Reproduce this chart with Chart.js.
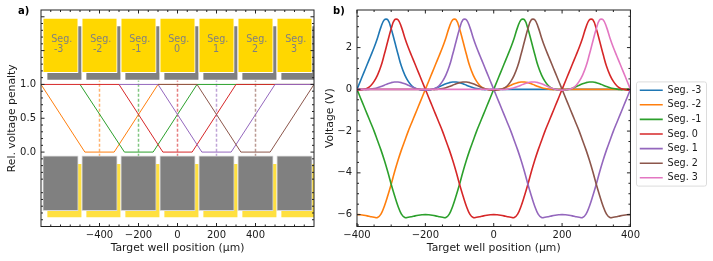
<!DOCTYPE html>
<html>
<head>
<meta charset="utf-8">
<script src="https://cdn.jsdelivr.net/npm/chart.js@4/dist/chart.umd.min.js"></script>
<style>
body{margin:0;background:#fff;font-family:"DejaVu Sans",sans-serif;}
canvas{position:absolute;top:0;}
#chartA{left:0;}
#chartB{left:320px;}
.tag{position:absolute;top:5px;font:bold 10px "DejaVu Sans",sans-serif;color:#000;}
</style>
</head>
<body>
<canvas id="chartA" width="320" height="261"></canvas>
<canvas id="chartB" width="393" height="261"></canvas>
<div class="tag" style="left:18px">a)</div>
<div class="tag" style="left:333px">b)</div>
<script>
// panel a data
const segNames = ["-3","-2","-1","0","1","2","3"];
const segCenters = [-600,-400,-200,0,200,400,600];
const topRectY = [1.175,1.98];
const topShadowY = [1.06,1.87];
const lowRectY = [-0.865,-0.055];
const lowShadowY = [-0.975,-0.165];
const shadowShift = 20;

const penaltyX = {
  orange:[-700,-475,-325,-100,100],
  green:[-500,-272,-125,100,700],
  red:[-700,-300,-75,75,300,700],
  purple:[-300,-100,125,275,500,700],
  brown:[-100,100,325,475,700]
};
const penaltyY = {
  orange:[1,0,0,1,1],
  green:[1,0,0,1,1],
  red:[1,1,0,0,1,1],
  purple:[1,1,0,0,1,1],
  brown:[1,1,0,0,1]
};
const targetWells = [-400,-200,0,200,400];
const targetColors = ["#ff7f0e","#2ca02c","#d62728","#9467bd","#8c564b"];
const targetSpan = [-0.07,1.075];

// panel b data, x every 10 um from -400 to 400
const wellX = [-400,-390,-380,-370,-360,-350,-340,-330,-320,-310,-300,-290,-280,-270,-260,-250,-240,-230,-220,-210,-200,-190,-180,-170,-160,-150,-140,-130,-120,-110,-100,-90,-80,-70,-60,-50,-40,-30,-20,-10,0,10,20,30,40,50,60,70,80,90,100,110,120,130,140,150,160,170,180,190,200,210,220,230,240,250,260,270,280,290,300,310,320,330,340,350,360,370,380,390,400];
const segM3 = [0,.4,.8,1.2,1.6,2,2.46,2.98,3.33,3.33,2.9,2.3,1.68,1.1,.68,.38,.17,.05,0,-.03,-.04,-.03,0,.05,.12,.2,.27,.32,.35,.35,.32,.27,.2,.13,.08,.04,.01,-.01,-.01,0,0,0,0,0,0,0,0,0,0,0,0,0,0,0,0,0,0,0,0,0,0,0,0,0,0,0,0,0,0,0,0,0,0,0,0,0,0,0,0,0,0];
const segM2 = [-6,-6.01,-6.03,-6.06,-6.1,-6.13,-6.14,-5.98,-5.6,-5.1,-4.55,-3.95,-3.4,-2.9,-2.45,-2,-1.6,-1.2,-.8,-.4,0,.4,.8,1.2,1.6,2,2.46,2.98,3.33,3.33,2.9,2.3,1.68,1.1,.68,.38,.17,.05,0,-.03,-.04,-.03,0,.05,.12,.2,.27,.32,.35,.35,.32,.27,.2,.13,.08,.04,.01,-.01,-.01,0,0,0,0,0,0,0,0,0,0,0,0,0,0,0,0,0,0,0,0,0,0];
const segM1 = [0,-.4,-.8,-1.2,-1.6,-2,-2.45,-2.9,-3.4,-3.95,-4.55,-5.1,-5.6,-5.98,-6.14,-6.13,-6.1,-6.06,-6.03,-6.01,-6,-6.01,-6.03,-6.06,-6.1,-6.13,-6.14,-5.98,-5.6,-5.1,-4.55,-3.95,-3.4,-2.9,-2.45,-2,-1.6,-1.2,-.8,-.4,0,.4,.8,1.2,1.6,2,2.46,2.98,3.33,3.33,2.9,2.3,1.68,1.1,.68,.38,.17,.05,0,-.03,-.04,-.03,0,.05,.12,.2,.27,.32,.35,.35,.32,.27,.2,.13,.08,.04,.01,-.01,-.01,0,0];
const seg0 = [-.04,-.03,0,.05,.17,.38,.68,1.1,1.68,2.3,2.9,3.33,3.33,2.98,2.46,2,1.6,1.2,.8,.4,0,-.4,-.8,-1.2,-1.6,-2,-2.45,-2.9,-3.4,-3.95,-4.55,-5.1,-5.6,-5.98,-6.14,-6.13,-6.1,-6.06,-6.03,-6.01,-6,-6.01,-6.03,-6.06,-6.1,-6.13,-6.14,-5.98,-5.6,-5.1,-4.55,-3.95,-3.4,-2.9,-2.45,-2,-1.6,-1.2,-.8,-.4,0,.4,.8,1.2,1.6,2,2.46,2.98,3.33,3.33,2.9,2.3,1.68,1.1,.68,.38,.17,.05,0,-.03,-.04];
const seg1 = [0,0,-.01,-.01,.01,.04,.08,.13,.2,.27,.32,.35,.35,.32,.27,.2,.12,.05,0,-.03,-.04,-.03,0,.05,.17,.38,.68,1.1,1.68,2.3,2.9,3.33,3.33,2.98,2.46,2,1.6,1.2,.8,.4,0,-.4,-.8,-1.2,-1.6,-2,-2.45,-2.9,-3.4,-3.95,-4.55,-5.1,-5.6,-5.98,-6.14,-6.13,-6.1,-6.06,-6.03,-6.01,-6,-6.01,-6.03,-6.06,-6.1,-6.13,-6.14,-5.98,-5.6,-5.1,-4.55,-3.95,-3.4,-2.9,-2.45,-2,-1.6,-1.2,-.8,-.4,0];
const seg2 = [0,0,0,0,0,0,0,0,0,0,0,0,0,0,0,0,0,0,0,0,0,0,-.01,-.01,.01,.04,.08,.13,.2,.27,.32,.35,.35,.32,.27,.2,.12,.05,0,-.03,-.04,-.03,0,.05,.17,.38,.68,1.1,1.68,2.3,2.9,3.33,3.33,2.98,2.46,2,1.6,1.2,.8,.4,0,-.4,-.8,-1.2,-1.6,-2,-2.45,-2.9,-3.4,-3.95,-4.55,-5.1,-5.6,-5.98,-6.14,-6.13,-6.1,-6.06,-6.03,-6.01,-6];
const seg3 = [0,0,0,0,0,0,0,0,0,0,0,0,0,0,0,0,0,0,0,0,0,0,0,0,0,0,0,0,0,0,0,0,0,0,0,0,0,0,0,0,0,0,-.01,-.01,.01,.04,.08,.13,.2,.27,.32,.35,.35,.32,.27,.2,.12,.05,0,-.03,-.04,-.03,0,.05,.17,.38,.68,1.1,1.68,2.3,2.9,3.33,3.33,2.98,2.46,2,1.6,1.2,.8,.4,0];

const seriesNames = ["Seg. -3","Seg. -2","Seg. -1","Seg. 0","Seg. 1","Seg. 2","Seg. 3"];
const seriesValues = [segM3,segM2,segM1,seg0,seg1,seg2,seg3];
const seriesColors = ["#1f77b4","#ff7f0e","#2ca02c","#d62728","#9467bd","#8c564b","#e377c2"];

// axis ticks
const aXLabels = [-400,-200,0,200,400];
const aYLabels = [0,0.5,1];
const aXMinor = [-650,-600,-550,-500,-450,-350,-300,-250,-150,-100,-50,50,100,150,250,300,350,450,500,550,600,650];
const aYMajor = [0,0.5,1,1.5,2];
const aYMinor = [-1,-0.9,-0.8,-0.7,-0.6,-0.4,-0.3,-0.2,-0.1,0.1,0.2,0.3,0.4,0.6,0.7,0.8,0.9,1.1,1.2,1.3,1.4,1.6,1.7,1.8,1.9];
const bXLabels = [-400,-200,0,200,400];
const bYLabels = [-6,-4,-2,0,2];
const bXMinor = [-350,-300,-250,-150,-100,-50,50,100,150,250,300,350];
const bYMinor = [-6.5,-5.5,-5,-4.5,-3.5,-3,-2.5,-1.5,-1,-0.5,0.5,1,1.5,2.5,3,3.5];

const font = {family:"DejaVu Sans",size:10};
const textColor = "#1a1a1a";
Chart.defaults.font.family = "DejaVu Sans";
Chart.defaults.color = textColor;

function fmt(v){ return String(v).replace("-","\u2212"); }

function makeScale(labels,min,max,title,size,cb,pad,tickPad){
  return {
    type:"linear",min,max,offset:false,
    grid:{display:false,drawTicks:false},border:{display:false},
    title:{display:true,text:title,font:{size:10.8},color:textColor,padding:pad},
    ticks:{autoSkip:false,maxRotation:0,font,color:textColor,padding:tickPad,callback:cb},
    afterBuildTicks(s){ s.ticks = labels.map(v=>({value:v})); },
    afterFit(s){
      if(s.isHorizontal()) s.height = size; else s.width = size;
      s.paddingLeft = s.paddingRight = s.paddingTop = s.paddingBottom = 0;
    }
  };
}

// inward ticks on all four sides plus the frame
const frame = {
  id:"frame",
  afterDatasetsDraw(chart,args,o){
    const {ctx,chartArea:a,scales:{x,y}} = chart;
    ctx.save();
    ctx.strokeStyle = "#222";
    ctx.lineWidth = 1;
    const tick = (x0,y0,x1,y1)=>{ ctx.beginPath(); ctx.moveTo(x0,y0); ctx.lineTo(x1,y1); ctx.stroke(); };
    o.xMajor.forEach(v=>{ const p=x.getPixelForValue(v); tick(p,a.bottom,p,a.bottom-3.5); tick(p,a.top,p,a.top+3.5); });
    o.xMinor.forEach(v=>{ const p=x.getPixelForValue(v); tick(p,a.bottom,p,a.bottom-2); tick(p,a.top,p,a.top+2); });
    o.yMajor.forEach(v=>{ const p=y.getPixelForValue(v); tick(a.left,p,a.left+3.5,p); tick(a.right,p,a.right-3.5,p); });
    o.yMinor.forEach(v=>{ const p=y.getPixelForValue(v); tick(a.left,p,a.left+2,p); tick(a.right,p,a.right-2,p); });
    ctx.strokeRect(a.left,a.top,a.right-a.left,a.bottom-a.top);
    ctx.restore();
  }
};

// text on the yellow segments
const segText = {
  id:"segText",
  afterDatasetsDraw(chart){
    const {ctx,scales:{x,y}} = chart;
    ctx.save();
    ctx.fillStyle = "#808080";
    ctx.font = '9.6px "DejaVu Sans"';
    ctx.textBaseline = "middle";
    ctx.textAlign = "left";
    segNames.forEach((n,i)=>{
      const left = x.getPixelForValue(segCenters[i])-9.3;
      ctx.fillText("Seg.",left,y.getPixelForValue(1.665));
      ctx.fillText(n,left+(n.length>1?2.7:5.7),y.getPixelForValue(1.515));
    });
    ctx.restore();
  }
};

const legendBox = {
  id:"legendBox",
  afterLayout(chart){
    // nudge the legend to sit where the reference has it
    chart.legend.left += 4.3;
    chart.legend.top -= 3;
  },
  afterDraw(chart){
    const h = chart.legend.legendHitBoxes, {ctx} = chart;
    ctx.save();
    ctx.strokeStyle = "#dcdcdc";
    ctx.lineWidth = 1;
    ctx.beginPath();
    ctx.roundRect(636.5-320,h[0].top-3.5,70,h[6].top+h[6].height-h[0].top+7,2);
    ctx.stroke();
    ctx.restore();
  }
};

function bars(centers,range,color,edge,order){
  return {
    type:"bar",
    data:centers.map(c=>({x:c,y:range})),
    backgroundColor:color,borderColor:edge,borderWidth:1,borderSkipped:false,
    barThickness:35.4,grouped:false,order
  };
}

const shifted = segCenters.map(c=>c+shadowShift);
const penaltyOrder = ["brown","purple","red","green","orange"];
const penaltyColors = {orange:"#ff7f0e",green:"#2ca02c",red:"#d62728",purple:"#9467bd",brown:"#8c564b"};

new Chart(document.getElementById("chartA"),{
  type:"bar",
  data:{datasets:[
    bars(segCenters,topRectY,"#ffd700","#ffffff",1),
    bars(shifted,topShadowY,"#808080","#ffffff",2),
    bars(segCenters,lowRectY,"#808080","#d8d8d8",1),
    bars(shifted,lowShadowY,"#ffe040","#ffffff",2),
    ...penaltyOrder.map((k,i)=>({
      type:"line",
      data:penaltyX[k].map((v,j)=>({x:v,y:penaltyY[k][j]})),
      borderColor:penaltyColors[k],borderWidth:1,pointRadius:0,order:10+i
    })),
    ...targetWells.map((w,i)=>({
      type:"line",
      data:targetSpan.map(v=>({x:w,y:v})),
      borderColor:targetColors[i]+"99",borderWidth:1.5,borderDash:[3,2],pointRadius:0,order:20
    }))
  ]},
  options:{
    responsive:false,animation:false,
    layout:{padding:{top:10,right:6,left:0,bottom:0}},
    scales:{
      x:makeScale(aXLabels,-700,700,"Target well position (\u00b5m)",34.5,v=>fmt(v),{top:0,bottom:6},3),
      y:makeScale(aYLabels,-1.1,2.1,"Rel. voltage penalty",41,v=>v.toFixed(1),{top:5.5,bottom:0},5)
    },
    plugins:{
      legend:{display:false},tooltip:{enabled:false},
      frame:{xMajor:aXLabels,xMinor:aXMinor,yMajor:aYMajor,yMinor:aYMinor}
    }
  },
  plugins:[segText,frame]
});

new Chart(document.getElementById("chartB"),{
  type:"line",
  data:{labels:wellX,datasets:seriesNames.map((n,i)=>({
    label:n,
    data:seriesValues[i].map((v,j)=>({x:wellX[j],y:v})),
    borderColor:seriesColors[i],backgroundColor:seriesColors[i],
    borderWidth:1.6,pointRadius:0,tension:0.4,order:7-i
  }))},
  options:{
    responsive:false,animation:false,
    layout:{padding:{top:10,right:6,left:0,bottom:0}},
    scales:{
      x:makeScale(bXLabels,-400,400,"Target well position (\u00b5m)",34.5,v=>fmt(v),{top:0,bottom:6},3),
      y:makeScale(bYLabels,-6.57,3.8,"Voltage (V)",37,v=>fmt(v),{top:3.5,bottom:0},5)
    },
    plugins:{
      tooltip:{enabled:false},
      legend:{
        position:"right",
        labels:{
          usePointStyle:true,pointStyle:"line",pointStyleWidth:23,
          font:{size:9.6},color:textColor,padding:5,
          sort:(a,b)=>a.datasetIndex-b.datasetIndex
        }
      },
      frame:{xMajor:bXLabels,xMinor:bXMinor,yMajor:bYLabels,yMinor:bYMinor}
    }
  },
  plugins:[frame,legendBox]
});
</script>
</body>
</html>
